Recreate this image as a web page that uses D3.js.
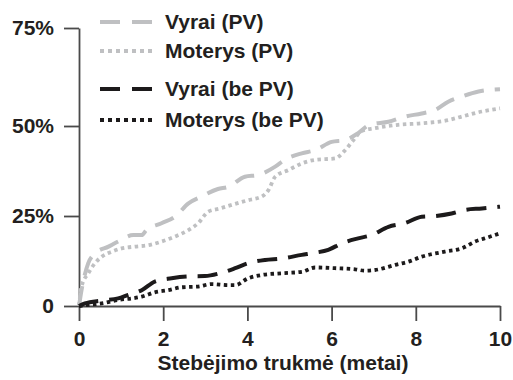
<!DOCTYPE html>
<html>
<head>
<meta charset="utf-8">
<script src="https://cdn.jsdelivr.net/npm/d3@7"></script>
<style>
  body { margin: 0; background: #fff; }
  text { font-family: "Liberation Sans", Arial, sans-serif; font-weight: bold; fill: #231f20; }
</style>
</head>
<body>
<svg class="chart"></svg>
<script>
// x values (years) and cumulative values (%) per series
var tVyraiPV = [0, 0.06, 0.22, 0.38, 0.7, 0.93, 1.29, 1.49, 1.6, 1.96, 2.28, 2.6, 2.91, 3.3, 3.55, 3.94, 4.26, 4.66, 4.89, 5.29, 5.61, 6.0, 6.32, 6.63, 6.9, 7.35, 7.74, 8.14, 8.46, 8.77, 9.09, 9.49, 10];
var vVyraiPV = [0, 4.4, 11.9, 14.6, 16.5, 17.9, 19.7, 19.7, 21.1, 23, 24.8, 28.5, 30.4, 32.5, 33.1, 35.9, 36.4, 38.7, 40.6, 42.4, 43.3, 45.6, 46.1, 48, 50.3, 51.1, 52.4, 53.2, 54.1, 56.2, 57.5, 58.8, 59.4];

var tMoterysPV = [0, 0.06, 0.22, 0.38, 0.54, 0.78, 1.01, 1.33, 1.65, 1.96, 2.28, 2.6, 2.83, 3.07, 3.35, 3.63, 4.02, 4.34, 4.5, 4.66, 4.98, 5.29, 5.61, 6.08, 6.3, 6.5, 6.71, 7.03, 7.58, 8.14, 8.77, 9.09, 9.57, 10];
var vMoterysPV = [0, 5.4, 9.1, 11.9, 13.7, 15.1, 16, 16.5, 16.9, 17.9, 19.3, 21.1, 23, 26.2, 27.1, 28.1, 29.4, 30.4, 32.2, 35.9, 37.8, 39.6, 40.6, 41, 43.0, 45.8, 48.6, 49.4, 50.3, 50.7, 51.5, 52.4, 53.7, 54.5];

var tVyraiBePV = [0, 0.14, 0.54, 0.93, 1.17, 1.49, 1.8, 2.2, 2.6, 2.99, 3.35, 3.71, 4.02, 4.42, 4.81, 5.29, 5.61, 5.92, 6.24, 6.63, 6.95, 7.35, 7.74, 8.14, 8.46, 8.85, 9.17, 9.57, 10];
var vVyraiBePV = [0, 0.7, 1.5, 2.1, 3.1, 4.4, 6.8, 7.7, 8.2, 8.3, 9.1, 10.5, 11.9, 12.8, 13.2, 14.2, 14.8, 15.6, 17.4, 18.8, 19.7, 22, 23, 24.8, 25, 25.7, 26.7, 27.1, 27.6];

var tMoterysBePV = [0, 0.22, 0.62, 0.93, 1.25, 1.49, 1.8, 2.12, 2.44, 2.83, 3.15, 3.55, 3.71, 4.02, 4.34, 4.81, 5.29, 5.61, 6.08, 6.56, 6.79, 7.03, 7.51, 7.82, 8.14, 8.69, 9.09, 9.41, 9.72, 10];
var vMoterysBePV = [0, 0.3, 0.9, 1.7, 2.1, 2.6, 3.8, 4.4, 5.2, 5.4, 6.1, 5.8, 5.8, 7.7, 8.6, 9.1, 9.5, 10.7, 10.5, 10.2, 9.8, 10, 11.4, 12.3, 13.7, 15.1, 16, 17.9, 19.1, 20.2];

var seriesNames = ["Vyrai (PV)", "Moterys (PV)", "Vyrai (be PV)", "Moterys (be PV)"];
var xTicks = [0, 2, 4, 6, 8, 10];
var yTicks = [0, 25, 50, 75];
var xTitle = "Stebėjimo trukmė (metai)";

function show() {

    'use strict';

    var width = 513, height = 380;
    var fontSize = 21;

    var svg = d3.select(".chart")
        .attr("width", width)
        .attr("height", height);

    // scales (the top tick of the original sits a bit higher than linear)
    var x = d3.scaleLinear().domain([0, 10]).range([79, 500]);
    var y = d3.scaleLinear().domain([0, 50, 75]).range([306, 126, 28]);

    var styles = [
        {color: "#bfc0c2", dash: "20,11", width: 4},
        {color: "#bfc0c2", dash: "3.5,3.5", width: 3.8},
        {color: "#1c1a1b", dash: "20,11", width: 4},
        {color: "#1c1a1b", dash: "3.5,3.5", width: 3.8}
    ];

    var series = [
        d3.zip(tVyraiPV, vVyraiPV),
        d3.zip(tMoterysPV, vMoterysPV),
        d3.zip(tVyraiBePV, vVyraiBePV),
        d3.zip(tMoterysBePV, vMoterysBePV)
    ];

    // axes
    var xAxis = svg.append("g")
        .attr("transform", "translate(0," + y(0) + ")")
        .call(d3.axisBottom(x).tickValues(xTicks).tickSize(15).tickSizeOuter(0).tickPadding(10));

    var yAxis = svg.append("g")
        .attr("transform", "translate(" + x(0) + ",0)")
        .call(d3.axisLeft(y).tickValues(yTicks).tickSize(15).tickSizeOuter(0).tickPadding(10)
            .tickFormat(function (d) { return d === 0 ? "0" : d + "%"; }));

    [xAxis, yAxis].forEach(function (a) {
        a.selectAll("path, line").attr("stroke", "#4a4a4a").attr("stroke-width", 1.8);
        a.selectAll("text").attr("font-size", fontSize).attr("fill", "#231f20")
            .attr("font-family", "Liberation Sans, Arial, sans-serif").attr("font-weight", "bold");
    });

    svg.append("text")
        .attr("x", 283)
        .attr("y", 370)
        .attr("text-anchor", "middle")
        .attr("font-size", fontSize)
        .text(xTitle);

    // curves
    var line = d3.line()
        .x(function (d) { return x(d[0]); })
        .y(function (d) { return y(d[1]); })
        .curve(d3.curveMonotoneX);

    svg.selectAll(".curve").data(series).enter()
        .append("path")
        .attr("class", "curve")
        .attr("d", line)
        .attr("fill", "none")
        .attr("stroke", function (d, i) { return styles[i].color; })
        .attr("stroke-width", function (d, i) { return styles[i].width; })
        .attr("stroke-dasharray", function (d, i) { return styles[i].dash; });

    // legend
    var legendY = [22, 51, 89, 120];
    var legend = svg.selectAll(".legend").data(seriesNames).enter()
        .append("g")
        .attr("class", "legend")
        .attr("transform", function (d, i) { return "translate(100," + legendY[i] + ")"; });

    legend.append("line")
        .attr("x1", 0).attr("x2", 52)
        .attr("stroke", function (d, i) { return styles[i].color; })
        .attr("stroke-width", function (d, i) { return styles[i].width; })
        .attr("stroke-dasharray", function (d, i) { return i % 2 === 0 ? "20,12" : "4,4"; });

    legend.append("text")
        .attr("x", 65)
        .attr("dy", "0.35em")
        .attr("font-size", fontSize)
        .text(function (d) { return d; });
}

show();
</script>
</body>
</html>
